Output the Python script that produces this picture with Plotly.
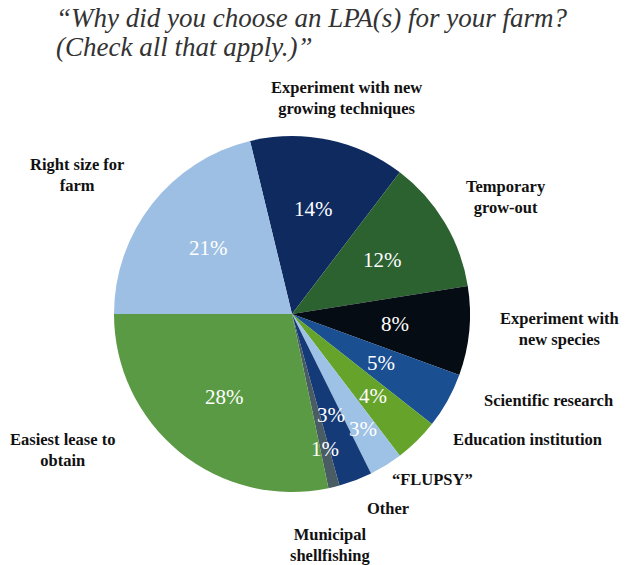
import math
import plotly.graph_objects as go

# Reasons for choosing an LPA, clockwise from the top
labels = [
    "Experiment with new<br>growing techniques",
    "Temporary<br>grow-out",
    "Experiment with<br>new species",
    "Scientific research",
    "Education institution",
    "\u201cFLUPSY\u201d",
    "Other",
    "Municipal<br>shellfishing",
    "Easiest lease to<br>obtain",
    "Right size for<br>farm",
]
shares = [14, 12, 8, 5, 4, 3, 3, 1, 28, 21]
colors = [
    "#0E2A5F", "#2C6130", "#050C14", "#1A4F92", "#66A32A",
    "#9DC2E5", "#143A77", "#4A5C64", "#5B9A44", "#9DBFE3",
]
title_lines = [
    "\u201cWhy did you choose an LPA(s) for your farm?",
    "(Check all that apply.)\u201d",
]

SERIF = "Liberation Serif"
W, H = 630, 565
# outside label anchor points in pixels (x, y of text centre)
label_xy = [
    (346, 98), (506, 197), (559, 329), (548, 400), (527, 439),
    (432, 479), (388, 508), (330, 545), (62, 450), (77, 175),
]
# radial placement of each percentage, as a fraction of the pie radius
pct_radius = [0.6, 0.59, 0.58, 0.57, 0.65, 0.76, 0.61, 0.78, 0.6, 0.6]

cx, cy, r = 292, 314, 178
total = sum(shares)
# first slice starts so that the last two slices meet at 9 o'clock
rotation = 270 + shares[-1] / total * 360 - 360

fig = go.Figure(go.Pie(
    labels=labels,
    values=shares,
    sort=False,
    direction="clockwise",
    rotation=rotation,
    marker=dict(colors=colors, line=dict(width=0)),
    textinfo="none",
    showlegend=False,
    hoverinfo="label+value",
    domain=dict(x=[(cx - r) / W, (cx + r) / W], y=[(H - cy - r) / H, (H - cy + r) / H]),
))

annotations = [
    dict(text=lab, x=px / W, y=1 - py / H, xref="paper", yref="paper",
         showarrow=False, xanchor="center", yanchor="middle",
         font=dict(family=SERIF, size=16.5, color="#111111"))
    for lab, (px, py) in zip(["<b>" + l.replace("<br>", "</b><br><b>") + "</b>" for l in labels], label_xy)
]

# percentage labels at each slice's mid-angle
cum = 0
for val, fr in zip(shares, pct_radius):
    mid = math.radians(rotation + (cum + val / 2) / total * 360)
    cum += val
    px = cx + fr * r * math.sin(mid)
    py = cy - fr * r * math.cos(mid)
    annotations.append(dict(
        text=f"{val}%", x=px / W, y=1 - py / H, xref="paper", yref="paper",
        showarrow=False, xanchor="center", yanchor="middle",
        font=dict(family=SERIF, size=21, color="white"),
    ))

# two-line italic heading
for line, ty in zip(title_lines, [18, 47]):
    annotations.append(dict(
        text=f"<i>{line}</i>", x=54 / W, y=1 - ty / H, xref="paper", yref="paper",
        showarrow=False, xanchor="left", yanchor="middle",
        font=dict(family=SERIF, size=27, color="#333333"),
    ))

fig.update_layout(
    width=W, height=H,
    margin=dict(l=0, r=0, t=0, b=0),
    paper_bgcolor="white", plot_bgcolor="white",
    annotations=annotations,
)

fig.write_html("out.html")
